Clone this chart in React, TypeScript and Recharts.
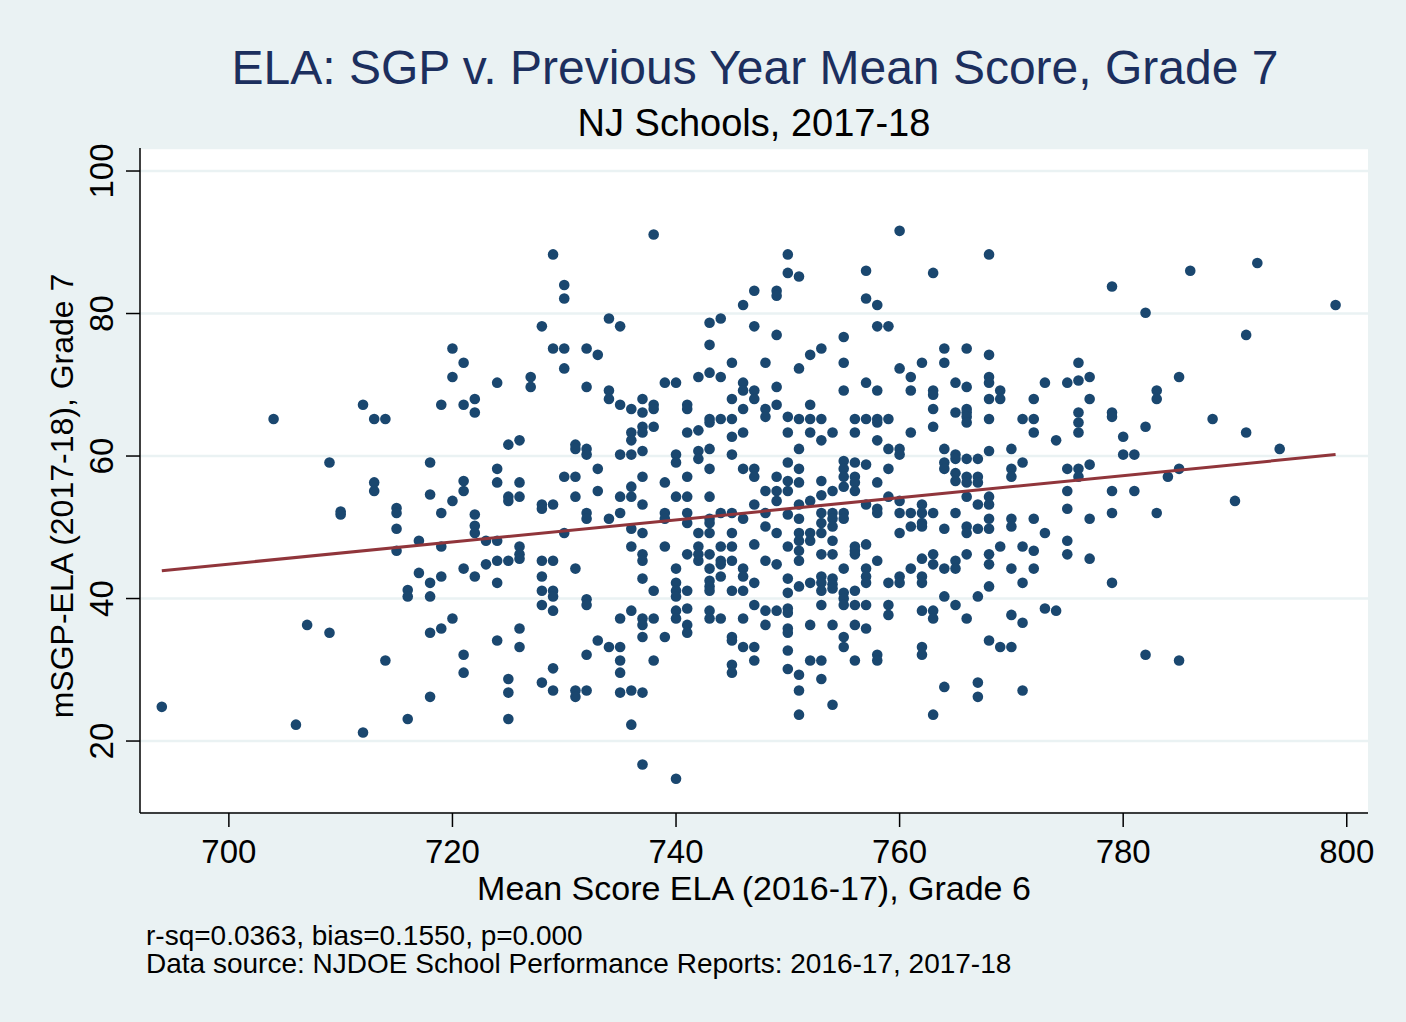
import React from 'react';
import { ScatterChart, Scatter, XAxis, YAxis, CartesianGrid } from 'recharts';

// Previous-year mean score (x) -> mSGP values (y) of schools at that score
const scoreColumns: [number, number[]][] = [
  [694, [24.8]],
  [704, [65.2]],
  [706, [22.3]],
  [707, [36.3]],
  [709, [59.1, 35.2]],
  [710, [52.2, 51.8]],
  [712, [67.2, 21.2]],
  [713, [65.2, 56.3, 55.1]],
  [714, [65.2, 31.3]],
  [715, [52.7, 52.0, 49.8, 46.7]],
  [716, [41.2, 40.3, 23.1]],
  [717, [48.1, 43.6]],
  [718, [59.1, 54.6, 42.2, 40.3, 35.2, 26.2]],
  [719, [67.2, 52.0, 47.3, 43.1, 35.8]],
  [720, [75.1, 71.1, 53.7, 37.2]],
  [721, [73.1, 67.2, 56.5, 55.1, 44.2, 32.1, 29.6]],
  [722, [68.0, 66.1, 51.8, 50.2, 49.2, 43.1]],
  [723, [48.1, 44.8]],
  [724, [70.3, 58.2, 56.3, 48.1, 45.3, 42.2, 34.1]],
  [725, [61.6, 54.3, 53.7, 45.3, 28.7, 26.8, 23.1]],
  [726, [62.2, 56.3, 54.3, 47.3, 46.2, 45.6, 35.8, 33.2]],
  [727, [71.1, 69.7]],
  [728, [78.2, 53.2, 52.6, 45.3, 43.1, 41.1, 39.1, 28.2]],
  [729, [88.3, 75.1, 53.2, 45.3, 41.1, 40.3, 38.3, 30.2, 27.1]],
  [730, [84.0, 82.1, 75.1, 72.3, 57.1, 49.2]],
  [731, [61.6, 61.0, 57.1, 54.3, 44.2, 27.1, 26.2]],
  [732, [75.1, 69.7, 61.0, 60.2, 52.0, 51.2, 39.9, 39.1, 32.1, 27.1]],
  [733, [74.2, 58.2, 55.1, 34.1]],
  [734, [79.3, 69.2, 68.0, 51.2, 33.2]],
  [735, [78.2, 67.2, 60.2, 54.3, 52.0, 37.2, 33.2, 31.3, 29.6, 26.8]],
  [736, [66.6, 63.3, 62.2, 60.2, 55.7, 54.3, 49.8, 47.3, 38.3, 27.1, 22.3]],
  [737, [68.0, 66.1, 64.1, 63.3, 60.7, 57.1, 53.2, 49.2, 46.2, 45.3, 42.8, 37.2, 36.3, 34.6, 26.8, 16.7]],
  [738, [91.1, 67.2, 66.6, 64.1, 41.1, 37.2, 31.3]],
  [739, [70.3, 56.3, 52.0, 51.2, 47.3, 34.6]],
  [740, [70.3, 60.2, 59.1, 54.3, 44.2, 42.2, 41.1, 40.3, 38.3, 37.2, 14.7]],
  [741, [67.2, 66.6, 63.3, 57.1, 54.3, 52.0, 50.6, 46.2, 41.1, 38.6, 36.3, 35.2]],
  [742, [71.1, 63.6, 60.7, 59.6, 49.2, 47.3, 46.2, 45.3]],
  [743, [78.7, 75.6, 71.7, 65.2, 64.7, 61.0, 58.2, 54.3, 51.2, 50.6, 49.2, 46.2, 44.2, 42.5, 41.7, 41.1, 38.3, 37.2]],
  [744, [79.3, 71.1, 65.2, 52.0, 47.3, 45.3, 44.8, 43.1, 37.2]],
  [745, [73.1, 68.0, 65.2, 62.7, 60.2, 52.0, 49.2, 47.3, 45.3, 41.1, 34.6, 34.1, 30.7, 29.6]],
  [746, [81.2, 70.3, 69.2, 66.6, 63.3, 58.2, 51.2, 44.2, 43.1, 41.1, 37.2, 33.2]],
  [747, [83.2, 78.2, 69.2, 68.0, 58.2, 57.1, 53.2, 47.6, 42.2, 39.1, 33.2, 31.3]],
  [748, [73.1, 66.6, 65.5, 55.1, 52.0, 50.1, 45.3, 38.3, 36.3]],
  [749, [83.2, 82.5, 77.0, 69.7, 67.2, 57.1, 55.1, 53.7, 49.2, 44.8, 38.3]],
  [750, [88.3, 85.7, 65.5, 63.3, 59.1, 56.5, 55.1, 51.8, 47.3, 42.8, 40.8, 38.6, 38.0, 35.8, 35.2, 32.7, 30.1]],
  [751, [85.2, 72.3, 65.2, 61.0, 58.2, 56.3, 53.2, 51.2, 49.2, 48.1, 46.7, 45.3, 41.7, 29.3, 27.1, 23.7]],
  [752, [74.2, 67.2, 65.2, 63.3, 53.7, 49.2, 48.1, 42.2, 36.3, 31.3]],
  [753, [75.1, 65.2, 62.2, 56.5, 54.5, 52.0, 50.6, 49.2, 46.2, 43.1, 42.2, 41.1, 39.1, 31.3, 28.7]],
  [754, [63.3, 55.1, 52.0, 51.2, 50.1, 48.1, 46.2, 42.8, 42.0, 41.4, 36.3, 25.1]],
  [755, [76.7, 73.1, 69.2, 59.3, 58.2, 57.1, 55.7, 52.0, 51.2, 44.2, 40.8, 40.0, 39.1, 34.6, 33.2]],
  [756, [65.2, 63.3, 59.1, 57.1, 56.3, 55.1, 47.3, 46.7, 46.2, 41.1, 39.1, 36.3, 31.3]],
  [757, [86.0, 82.1, 70.3, 65.2, 58.8, 53.2, 47.6, 44.2, 43.1, 42.2, 39.1, 35.8]],
  [758, [81.2, 78.2, 69.2, 65.2, 64.7, 62.2, 56.3, 52.6, 52.0, 45.3, 32.1, 31.3]],
  [759, [78.2, 65.2, 61.0, 58.2, 54.3, 42.2, 39.1, 37.7]],
  [760, [91.6, 72.3, 61.0, 60.2, 53.7, 52.0, 49.2, 43.1, 42.2]],
  [761, [71.1, 69.2, 63.3, 52.0, 50.1, 44.2]],
  [762, [73.1, 53.2, 52.0, 50.6, 50.1, 45.6, 43.1, 42.2, 38.3, 33.2, 32.1]],
  [763, [85.7, 69.2, 68.6, 66.6, 64.1, 52.0, 46.2, 44.8, 38.3, 37.2, 23.7]],
  [764, [75.1, 73.1, 61.0, 59.1, 58.2, 49.8, 44.2, 40.3, 27.6]],
  [765, [70.3, 66.1, 60.2, 59.6, 57.6, 56.5, 52.0, 45.3, 44.2, 39.1]],
  [766, [75.1, 69.7, 66.6, 66.1, 65.5, 64.7, 59.6, 57.1, 56.3, 54.3, 50.1, 49.2, 46.2, 37.2]],
  [767, [59.6, 57.1, 56.3, 53.2, 49.8, 40.3, 28.2, 26.2]],
  [768, [88.3, 74.2, 71.1, 70.3, 68.0, 65.2, 60.7, 54.3, 53.2, 51.2, 49.8, 46.2, 44.8, 41.7, 34.1]],
  [769, [69.2, 68.0, 47.3, 33.2]],
  [770, [61.0, 58.2, 57.1, 51.2, 50.1, 44.2, 37.7, 33.2]],
  [771, [65.2, 59.1, 47.3, 42.2, 36.6, 27.1]],
  [772, [68.0, 65.2, 63.3, 51.2, 46.7, 44.2]],
  [773, [70.3, 49.2, 38.6]],
  [774, [62.2, 38.3]],
  [775, [70.3, 58.2, 55.1, 52.6, 48.1, 46.2]],
  [776, [73.1, 70.6, 66.1, 64.7, 63.3, 58.2, 57.1]],
  [777, [71.1, 68.0, 58.8, 51.2, 45.6]],
  [779, [83.8, 66.1, 65.5, 55.1, 52.0, 42.2]],
  [780, [62.7, 60.2]],
  [781, [60.2, 55.1]],
  [782, [80.1, 64.1, 32.1]],
  [783, [69.2, 68.0, 52.0]],
  [784, [57.1]],
  [785, [71.1, 58.2, 31.3]],
  [786, [86.0]],
  [788, [65.2]],
  [790, [53.7]],
  [791, [77.0, 63.3]],
  [792, [87.1]],
  [794, [61.0]],
  [799, [81.2]],
];

// Linear fit endpoints
const fitX = [694, 799];
const fitY = [43.9, 60.2];

const xTicks = [700, 720, 740, 760, 780, 800];
const yTicks = [20, 40, 60, 80, 100];

const titleText = 'ELA: SGP v. Previous Year Mean Score, Grade 7';
const subtitleText = 'NJ Schools, 2017-18';
const xLabel = 'Mean Score ELA (2016-17), Grade 6';
const yLabel = 'mSGP-ELA (2017-18), Grade 7';
const notes = [
  'r-sq=0.0363, bias=0.1550, p=0.000',
  'Data source: NJDOE School Performance Reports: 2016-17, 2017-18',
];

const points = scoreColumns.flatMap(([x, ys]) => ys.map((y) => ({ x, y })));
const fitPoints = fitX.map((x, i) => ({ x, y: fitY[i] }));

const BG = '#eaf2f3';
const NAVY = '#1a476f';
const MAROON = '#90353b';
const FONT = '"Liberation Sans", Arial, Helvetica, sans-serif';

const XTick = (props: any) => {
  const { x, y, payload } = props;
  return (
    <text x={x} y={y + 36} textAnchor="middle" fontSize={33} fontFamily={FONT} fill="#000">
      {payload.value}
    </text>
  );
};

const YTick = (props: any) => {
  const { x, y, payload } = props;
  const bx = x - 13;
  return (
    <text
      x={bx}
      y={y}
      textAnchor="middle"
      fontSize={33}
      fontFamily={FONT}
      fill="#000"
      transform={`rotate(-90 ${bx} ${y})`}
    >
      {payload.value}
    </text>
  );
};

const Dot = (props: any) => {
  const { cx, cy } = props;
  if (cx == null || cy == null) return <g />;
  return <circle cx={cx} cy={cy} r={5.3} fill={NAVY} />;
};

export default function App() {
  return (
    <div
      style={{
        position: 'absolute',
        left: 0,
        top: 0,
        width: 1406,
        height: 1022,
        background: BG,
        overflow: 'hidden',
      }}
    >
      <ScatterChart
        width={1406}
        height={1022}
        margin={{ top: 148, right: 38, bottom: 149, left: 0 }}
      >
        <CartesianGrid
          vertical={false}
          horizontal={true}
          stroke={BG}
          strokeWidth={2.5}
          fill="#ffffff"
          fillOpacity={1}
        />
        <XAxis
          type="number"
          dataKey="x"
          domain={[692.05, 801.9]}
          ticks={xTicks}
          allowDataOverflow
          height={60}
          tickSize={14}
          tickMargin={0}
          axisLine={{ stroke: '#000', strokeWidth: 1.5 }}
          tickLine={{ stroke: '#000', strokeWidth: 1.5 }}
          tick={<XTick />}
          interval={0}
        />
        <YAxis
          type="number"
          dataKey="y"
          domain={[9.9, 103.23]}
          ticks={yTicks}
          allowDataOverflow
          width={140}
          tickSize={14}
          tickMargin={0}
          axisLine={{ stroke: '#000', strokeWidth: 1.5 }}
          tickLine={{ stroke: '#000', strokeWidth: 1.5 }}
          tick={<YTick />}
          interval={0}
        />
        <Scatter data={points} shape={<Dot />} isAnimationActive={false} />
        <Scatter
          data={fitPoints}
          line={{ stroke: MAROON, strokeWidth: 3 }}
          shape={() => <g />}
          isAnimationActive={false}
        />
      </ScatterChart>
      <svg
        width={1406}
        height={1022}
        style={{ position: 'absolute', left: 0, top: 0, pointerEvents: 'none' }}
      >
        <text x={755} y={84} textAnchor="middle" fontSize={48} fontFamily={FONT} fill="#1c2f5e">
          {titleText}
        </text>
        <text x={754} y={136} textAnchor="middle" fontSize={38} fontFamily={FONT} fill="#000">
          {subtitleText}
        </text>
        <text x={754} y={900} textAnchor="middle" fontSize={34} fontFamily={FONT} fill="#000">
          {xLabel}
        </text>
        <text
          x={73}
          y={496}
          textAnchor="middle"
          fontSize={32}
          fontFamily={FONT}
          fill="#000"
          transform="rotate(-90 73 496)"
        >
          {yLabel}
        </text>
        <text x={146} y={945} fontSize={28} fontFamily={FONT} fill="#000">
          {notes[0]}
        </text>
        <text x={146} y={973} fontSize={28} fontFamily={FONT} fill="#000">
          {notes[1]}
        </text>
      </svg>
    </div>
  );
}
